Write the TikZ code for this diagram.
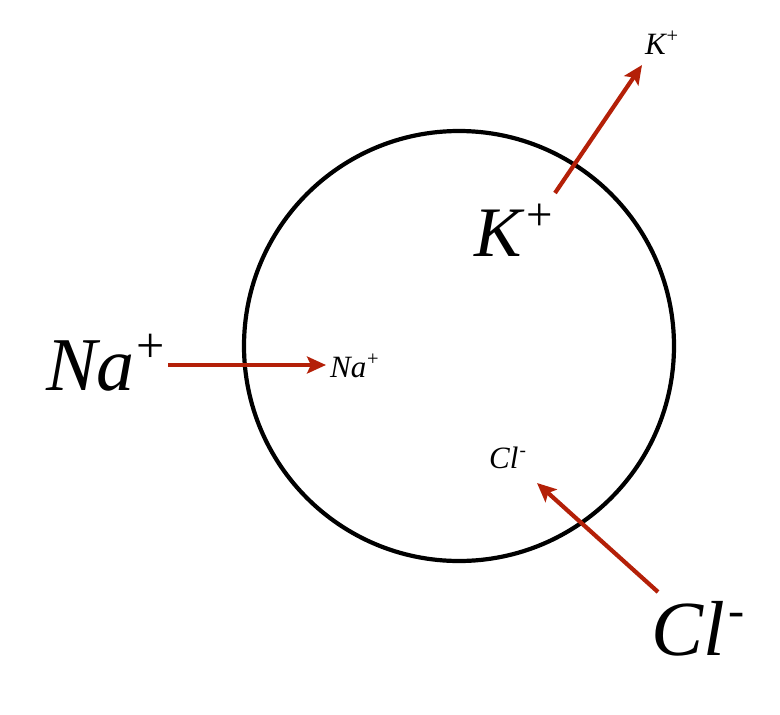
\documentclass[tikz,border=0pt]{standalone}
\usepackage{fontspec}
\usepackage{graphicx}
\setmainfont{Liberation Serif}
\usetikzlibrary{arrows.meta}
\definecolor{ionred}{RGB}{180,32,8}
\newcommand\ionplus{\kern0.025em\raisebox{0.36em}{\scalebox{0.66}{\upshape+}}}
\newcommand\ionminus{\kern0.04em\raisebox{0.36em}{\scalebox{0.62}{\upshape-}}}
\tikzset{
  ionbig/.style={anchor=base west, inner sep=0pt, font=\itshape\fontsize{76}{80}\selectfont},
  ionsmall/.style={anchor=base west, inner sep=0pt, font=\itshape\fontsize{31}{36}\selectfont},
  flow/.style={draw=ionred, line width=4.2pt, -{Stealth[length=19pt,width=17pt,inset=4pt]}},
  membrane/.style={draw=black, line width=4.2pt}
}
\begin{document}
\begin{tikzpicture}[x=1pt,y=-1pt]
\useasboundingbox (0,0) rectangle (780,715);
\fill[white] (0,0) rectangle (780,715);
\node[membrane, circle, minimum size=430pt, inner sep=0pt] (cell) at (459,346) {};
% labels
\node[ionbig] (naout) at (46,390) {Na\ionplus};
\node[ionsmall] (nain) at (330,377) {Na\ionplus};
\node[ionbig, font=\itshape\fontsize{71}{74}\selectfont] (kin) at (474,256) {K\kern0.04em\ionplus};
\node[ionsmall] (kout) at (645,54) {K\ionplus};
\node[ionsmall] (clin) at (489,468) {Cl\ionminus};
\node[ionbig, font=\itshape\fontsize{78}{84}\selectfont] (clout) at (651,655) {Cl\ionminus};
% arrow ends
\coordinate (nas) at (168,365);
\coordinate (nae) at (326,365);
\coordinate (ks) at (555,193);
\coordinate (ke) at (642,65);
\coordinate (cls) at (658,592);
\coordinate (cle) at (537,483);
\draw[flow] (nas) -- (nae);
\draw[flow] (ks) -- (ke);
\draw[flow] (cls) -- (cle);
\end{tikzpicture}
\end{document}
